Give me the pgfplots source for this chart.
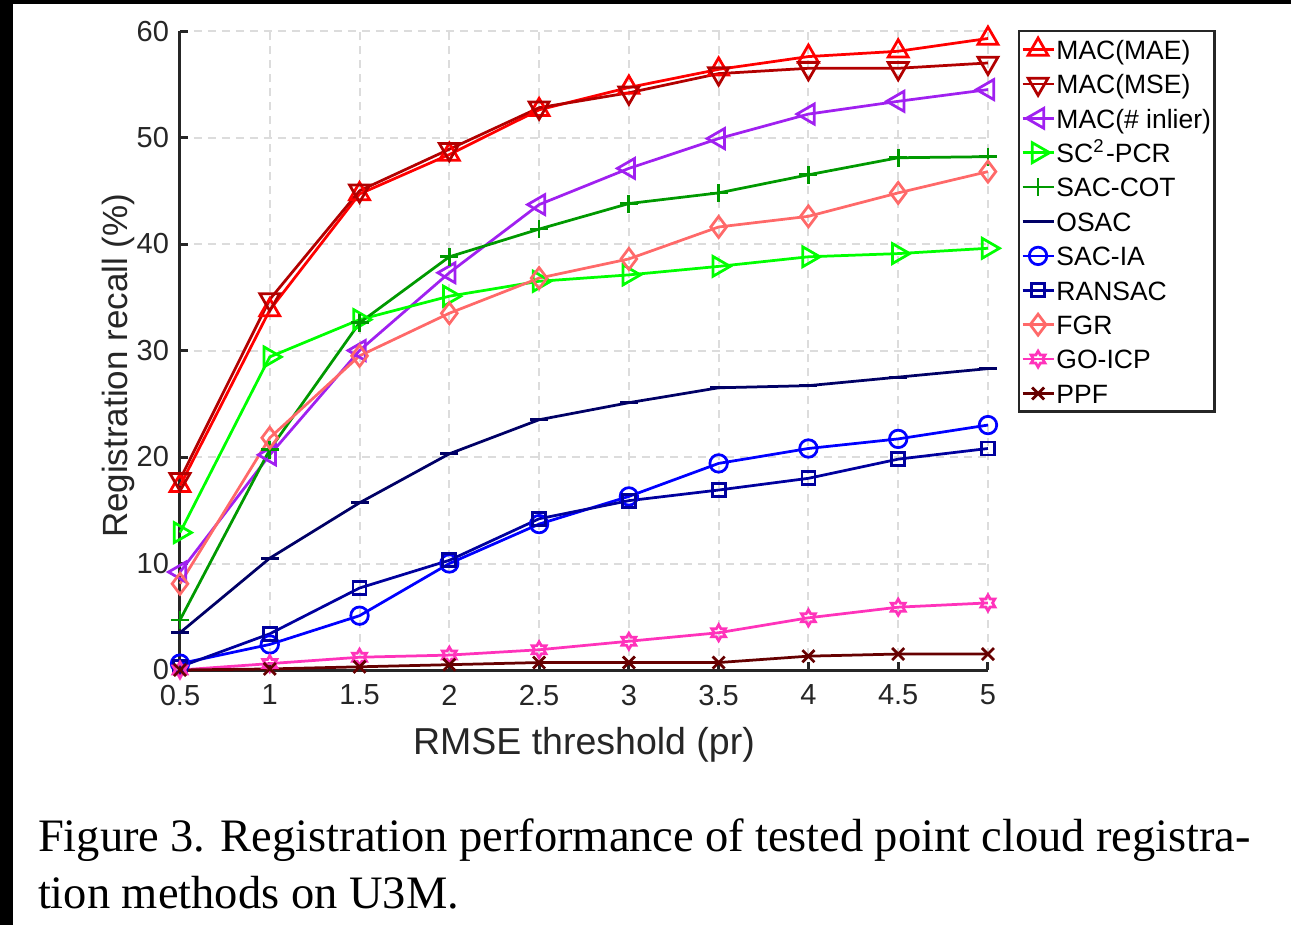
\documentclass[border=0pt]{standalone}
\usepackage{fontspec}
\setmainfont{Liberation Sans}
\newfontfamily\capfont{Liberation Serif}
\usepackage{pgfplots}
\pgfplotsset{compat=1.18}

\definecolor{cMAE}{rgb}{1,0,0}
\definecolor{cMSE}{rgb}{0.7,0,0}
\definecolor{cInl}{RGB}{160,32,240}
\definecolor{cSC}{rgb}{0,1,0}
\definecolor{cCOT}{rgb}{0,0.6,0}
\definecolor{cOSAC}{rgb}{0,0,0.4}
\definecolor{cIA}{rgb}{0,0,1}
\definecolor{cRAN}{rgb}{0,0,0.62}
\definecolor{cFGR}{RGB}{255,105,105}
\definecolor{cGO}{RGB}{255,51,187}
\definecolor{cPPF}{rgb}{0.4,0,0}
\definecolor{axgray}{RGB}{38,38,38}

% six-pointed star outline
\pgfdeclareplotmark{hexagram}{%
  \pgfpathmoveto{\pgfpointpolar{90}{\pgfplotmarksize}}%
  \pgfpathlineto{\pgfpointpolar{120}{0.577\pgfplotmarksize}}%
  \pgfpathlineto{\pgfpointpolar{150}{\pgfplotmarksize}}%
  \pgfpathlineto{\pgfpointpolar{180}{0.577\pgfplotmarksize}}%
  \pgfpathlineto{\pgfpointpolar{210}{\pgfplotmarksize}}%
  \pgfpathlineto{\pgfpointpolar{240}{0.577\pgfplotmarksize}}%
  \pgfpathlineto{\pgfpointpolar{270}{\pgfplotmarksize}}%
  \pgfpathlineto{\pgfpointpolar{300}{0.577\pgfplotmarksize}}%
  \pgfpathlineto{\pgfpointpolar{330}{\pgfplotmarksize}}%
  \pgfpathlineto{\pgfpointpolar{0}{0.577\pgfplotmarksize}}%
  \pgfpathlineto{\pgfpointpolar{30}{\pgfplotmarksize}}%
  \pgfpathlineto{\pgfpointpolar{60}{0.577\pgfplotmarksize}}%
  \pgfpathclose
  \pgfusepathqstroke}

\begin{document}
\begin{tikzpicture}
\useasboundingbox (0,0) rectangle (258.2pt,-185pt);
\fill[black] (0,0) rectangle (258.2pt,-0.8pt);
\fill[black] (0,0) rectangle (2.6pt,-185pt);

\begin{axis}[
    at={(36pt,-134pt)}, anchor=south west,
    width=161.6pt, height=127.8pt, scale only axis,
    xmin=0.5, xmax=5, ymin=0, ymax=60,
    enlargelimits=false, clip=false,
    axis x line=bottom, axis y line=left,
    axis line style={-, axgray, line width=0.6pt},
    tick align=inside, major tick length=1.6pt,
    tick style={axgray, line width=0.6pt},
    xtick={0.5,1,1.5,2,2.5,3,3.5,4,4.5,5},
    xticklabels={0.5,1,1.5,2,2.5,3,3.5,4,4.5,5},
    ytick={0,10,20,30,40,50,60},
    ticklabel style={font=\fontsize{5.8}{6}\selectfont, text=axgray, inner sep=0pt},
    xticklabel style={yshift=-2.8pt},
    yticklabel style={xshift=-2pt},
    /pgf/number format/assume math mode=true,
    grid=major,
    major grid style={dash pattern=on 1.6pt off 1.2pt, color={rgb,255:red,220;green,220;blue,220}, line width=0.4pt},
    xlabel={RMSE threshold (pr)},
    ylabel={Registration recall (\%)},
    label style={text=axgray},
    xlabel style={font=\fontsize{7.5}{8}\selectfont, at={(axis description cs:0.5,-0.133)}, anchor=base},
    ylabel style={font=\fontsize{7.0}{8}\selectfont, at={(axis description cs:-0.0644,0.476)}, rotate=0, anchor=base},
    every axis plot/.append style={line width=0.55pt},
    legend style={at={(axis description cs:1.0371,1.0016)}, anchor=north west,
        draw=axgray, line width=0.5pt,
        font=\fontsize{5.3}{6}\selectfont,
        inner xsep=0.4pt, inner ysep=0.9pt,
        nodes={inner sep=0.3pt, text height=4.4pt, text depth=0.5pt},
        row sep=1.38pt, column sep=0pt},
    legend cell align=left,
    legend image code/.code={\draw[mark repeat=2,mark phase=2] plot coordinates {(0pt,0pt) (3.1pt,0pt) (6.2pt,0pt)};},
]
% MAC(MAE)
\addplot[cMAE, mark=triangle, mark size=2.3pt] coordinates {
 (0.5,17.3) (1,33.8) (1.5,44.7) (2,48.4) (2.5,52.6) (3,54.7) (3.5,56.4) (4,57.6) (4.5,58.1) (5,59.3)};
\addlegendentry{MAC(MAE)}
% MAC(MSE)
\addplot[cMSE, mark=triangle, mark size=2.3pt, mark options={rotate=180}] coordinates {
 (0.5,17.9) (1,34.8) (1.5,45.0) (2,48.9) (2.5,52.8) (3,54.2) (3.5,56.0) (4,56.5) (4.5,56.5) (5,57.0)};
\addlegendentry{MAC(MSE)}
% MAC(# inlier)
\addplot[cInl, mark=triangle, mark size=2.3pt, mark options={rotate=90}] coordinates {
 (0.5,9.2) (1,20.2) (1.5,30.0) (2,37.3) (2.5,43.7) (3,47.1) (3.5,49.9) (4,52.2) (4.5,53.4) (5,54.5)};
\addlegendentry{MAC(\# inlier)}
% SC2-PCR
\addplot[cSC, mark=triangle, mark size=2.3pt, mark options={rotate=-90}] coordinates {
 (0.5,12.9) (1,29.4) (1.5,32.9) (2,35.1) (2.5,36.5) (3,37.1) (3.5,37.9) (4,38.8) (4.5,39.1) (5,39.6)};
\addlegendentry{SC\textsuperscript{2}-PCR}
% SAC-COT
\addplot[cCOT, mark=+, mark size=1.8pt] coordinates {
 (0.5,4.7) (1,20.7) (1.5,32.6) (2,38.8) (2.5,41.4) (3,43.8) (3.5,44.8) (4,46.5) (4.5,48.1) (5,48.2)};
\addlegendentry{SAC-COT}
% OSAC
\addplot[cOSAC, mark=-, mark size=1.8pt] coordinates {
 (0.5,3.5) (1,10.5) (1.5,15.7) (2,20.3) (2.5,23.5) (3,25.1) (3.5,26.5) (4,26.7) (4.5,27.5) (5,28.3)};
\addlegendentry{OSAC}
% SAC-IA
\addplot[cIA, mark=o, mark size=1.75pt] coordinates {
 (0.5,0.6) (1,2.4) (1.5,5.1) (2,10.0) (2.5,13.7) (3,16.3) (3.5,19.4) (4,20.8) (4.5,21.7) (5,23.0)};
\addlegendentry{SAC-IA}
% RANSAC
\addplot[cRAN, mark=square, mark size=1.3pt] coordinates {
 (0.5,0.3) (1,3.4) (1.5,7.7) (2,10.3) (2.5,14.2) (3,15.9) (3.5,16.9) (4,18.0) (4.5,19.8) (5,20.8)};
\addlegendentry{RANSAC}
% FGR
\addplot[cFGR, mark=diamond, mark size=2.1pt] coordinates {
 (0.5,8.1) (1,21.8) (1.5,29.5) (2,33.5) (2.5,36.8) (3,38.6) (3.5,41.6) (4,42.6) (4.5,44.8) (5,46.8)};
\addlegendentry{FGR}
% GO-ICP
\addplot[cGO, mark=hexagram, mark size=1.6pt] coordinates {
 (0.5,0.0) (1,0.6) (1.5,1.2) (2,1.4) (2.5,1.9) (3,2.7) (3.5,3.5) (4,4.9) (4.5,5.9) (5,6.3)};
\addlegendentry{GO-ICP}
% PPF
\addplot[cPPF, mark=x, mark size=1.7pt] coordinates {
 (0.5,0.0) (1,0.1) (1.5,0.3) (2,0.5) (2.5,0.7) (3,0.7) (3.5,0.7) (4,1.3) (4.5,1.5) (5,1.5)};
\addlegendentry{PPF}
\end{axis}

\node[anchor=base west, inner sep=0pt, font=\capfont\fontsize{9.3}{11.2}\selectfont] at (7.4pt,-170.3pt)
  {\makebox[242.6pt][s]{Figure 3. Registration performance of tested point cloud registra-}};
\node[anchor=base west, inner sep=0pt, font=\capfont\fontsize{9.3}{11.2}\selectfont] at (7.4pt,-181.6pt)
  {tion methods on U3M.};
\end{tikzpicture}
\end{document}
